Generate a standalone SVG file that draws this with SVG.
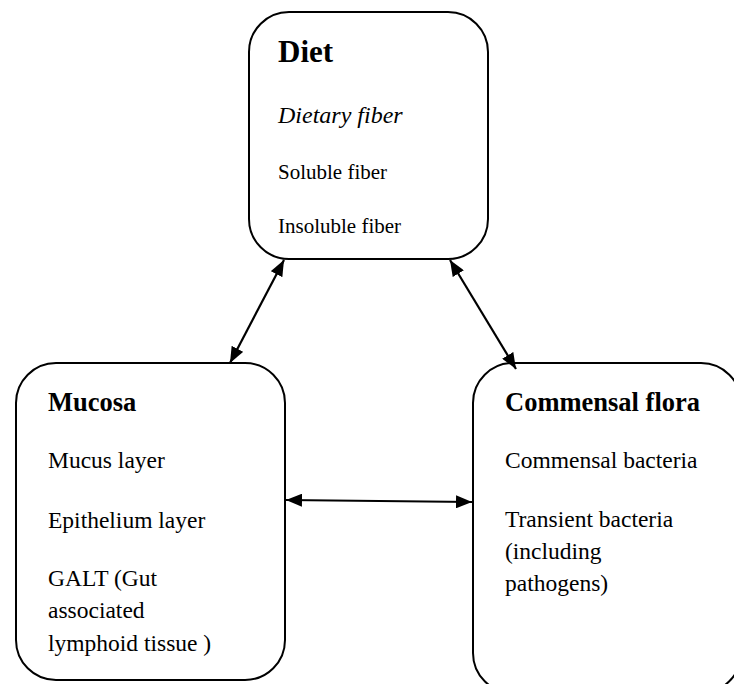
<svg xmlns="http://www.w3.org/2000/svg" width="734" height="684" viewBox="0 0 734 684" font-family="Liberation Serif, Times New Roman, DejaVu Serif, serif">
<style>
.box{fill:#fff;stroke:#000;stroke-width:2}
text{font-family:'Liberation Serif','Times New Roman','DejaVu Serif',serif;fill:#000}
.h{font-weight:bold;font-size:26.5px}
.b{font-size:23.5px}
.d{font-size:21px}
.conn line{stroke:#000;stroke-width:2.2;fill:none}
</style>
<defs>
<marker id="ah" viewBox="0 0 16 13" refX="16" refY="6.5" markerWidth="16" markerHeight="13" orient="auto-start-reverse" markerUnits="userSpaceOnUse">
<path d="M0,0 L16,6.5 L0,13 z" fill="#000"/>
</marker>
</defs>
<rect width="734" height="684" fill="#fff"/>
<g id="diet">
<rect class="box" x="249" y="12" width="239" height="247" rx="40" ry="40"/>
<text x="278" y="62" font-weight="bold" font-size="31">Diet</text>
<text x="278" y="123" font-style="italic" font-size="24">Dietary fiber</text>
<text class="d" x="278" y="179">Soluble fiber</text>
<text class="d" x="278" y="233">Insoluble fiber</text>
</g>
<g id="mucosa">
<rect class="box" x="16" y="363" width="269" height="317" rx="40" ry="40"/>
<text class="h" x="48" y="411">Mucosa</text>
<text class="b" x="48" y="468">Mucus layer</text>
<text class="b" x="48" y="528">Epithelium layer</text>
<text class="b" x="48" y="586">GALT (Gut</text>
<text class="b" x="48" y="618">associated</text>
<text class="b" x="48" y="651">lymphoid tissue )</text>
</g>
<g id="commensal">
<rect class="box" x="473" y="363" width="268" height="330" rx="40" ry="40"/>
<text class="h" x="505" y="411">Commensal flora</text>
<text class="b" x="505" y="468">Commensal bacteria</text>
<text class="b" x="505" y="527">Transient bacteria</text>
<text class="b" x="505" y="559">(including</text>
<text class="b" x="505" y="591">pathogens)</text>
</g>
<g class="conn">
<line x1="284" y1="260" x2="230" y2="363" marker-start="url(#ah)" marker-end="url(#ah)"/>
<line x1="450" y1="260" x2="516" y2="369" marker-start="url(#ah)" marker-end="url(#ah)"/>
<line x1="286" y1="500" x2="472" y2="502" marker-start="url(#ah)" marker-end="url(#ah)"/>
</g>
</svg>
